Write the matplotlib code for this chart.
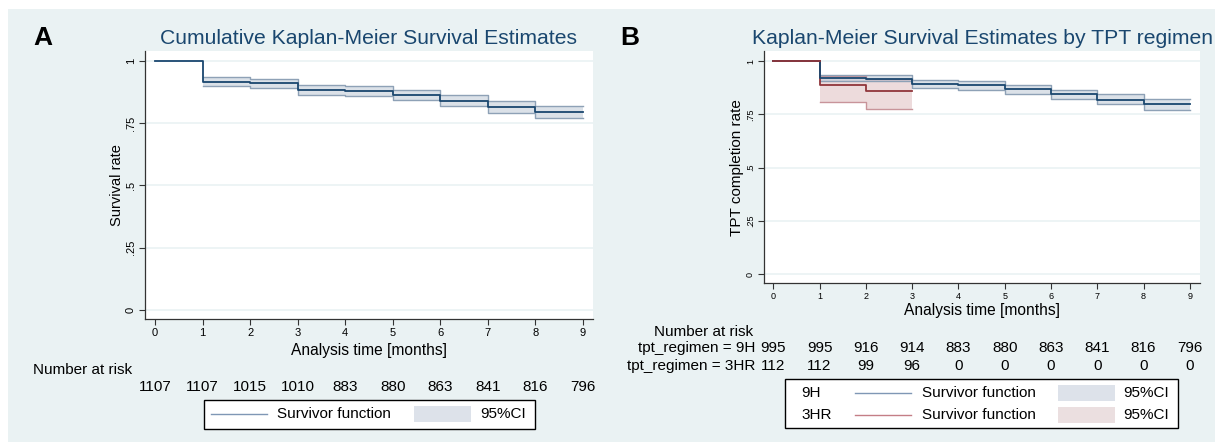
import numpy as np
import matplotlib.pyplot as plt
from matplotlib.transforms import blended_transform_factory
from matplotlib.patches import Rectangle
from matplotlib.lines import Line2D

plt.rcParams['font.family'] = ['Liberation Sans', 'DejaVu Sans']

W, H = 1215, 444

# dados
months = np.arange(10)

# painel A - coorte inteira
surv_all = [1.0, 0.916, 0.911, 0.884, 0.880, 0.865, 0.841, 0.815, 0.796]
lo_all = [0.899, 0.893, 0.862, 0.858, 0.842, 0.818, 0.791, 0.770]
hi_all = [0.934, 0.927, 0.903, 0.899, 0.885, 0.865, 0.839, 0.820]
risk_all = [1107, 1107, 1015, 1010, 883, 880, 863, 841, 816, 796]

# painel B - por regime
surv_9h = [1.0, 0.920, 0.917, 0.893, 0.888, 0.868, 0.846, 0.819, 0.800]
lo_9h = [0.907, 0.904, 0.871, 0.863, 0.844, 0.821, 0.796, 0.772]
hi_9h = [0.936, 0.932, 0.912, 0.906, 0.888, 0.866, 0.843, 0.822]
surv_3hr = [1.0, 0.887, 0.857]
lo_3hr = [0.808, 0.777]
hi_3hr = [0.931, 0.915]
risk_9h = [995, 995, 916, 914, 883, 880, 863, 841, 816, 796]
risk_3hr = [112, 112, 99, 96, 0, 0, 0, 0, 0, 0]

yticks = [0, 0.25, 0.5, 0.75, 1]
ytick_labels = ['0', '.25', '.5', '.75', '1']

bg = '#eaf2f3'
navy = '#1a476f'
maroon = '#90353b'


def fx(px):
    return px / W


def fy(py):
    return 1 - py / H


def km(ax, surv, lo, hi, color, fill, edge):
    n = len(surv)
    t = months[:n + 1]
    ax.step(t, surv + surv[-1:], where='post', color=color, lw=1.3, zorder=5)
    tc = months[1:n + 1]
    ax.fill_between(tc, lo + lo[-1:], hi + hi[-1:], step='post', color=fill,
                    alpha=0.6, lw=0, zorder=2)
    ax.step(tc, lo + lo[-1:], where='post', color=edge, lw=1.0, zorder=3)
    ax.step(tc, hi + hi[-1:], where='post', color=edge, lw=1.0, zorder=3)


def setup(ax, tick_fs, ylim, xlim):
    ax.set_facecolor('white')
    ax.set_xlim(*xlim)
    ax.set_ylim(*ylim)
    ax.set_xticks(months)
    ax.set_yticks(yticks)
    ax.set_yticklabels(ytick_labels, rotation=90, va='center')
    ax.grid(axis='y', color=bg, lw=1.2)
    ax.set_axisbelow(True)
    for s in ['top', 'right']:
        ax.spines[s].set_visible(False)
    for s in ['left', 'bottom']:
        ax.spines[s].set_color('#333333')
        ax.spines[s].set_linewidth(0.9)
    ax.tick_params(length=4.5, width=0.8, colors='#333333', labelcolor='black',
                   labelsize=tick_fs, pad=2)


def legend_row(y, x_line, x_txt, x_patch, x_ci, lcolor, pcolor):
    fig.add_artist(Line2D([fx(x_line), fx(x_line + 56)], [fy(y), fy(y)],
                          color=lcolor, lw=1.0, transform=fig.transFigure))
    fig.text(fx(x_txt), fy(y), 'Survivor function', fontsize=11, va='center')
    fig.add_artist(Rectangle((fx(x_patch), fy(y + 8)), 57 / W, 16 / H,
                             facecolor=pcolor, edgecolor='none',
                             transform=fig.transFigure))
    fig.text(fx(x_ci), fy(y), '95%CI', fontsize=11, va='center')


fig = plt.figure(figsize=(W / 100, H / 100), dpi=100)
fig.patch.set_facecolor('white')
fig.add_artist(Rectangle((fx(8), fy(442)), (W - 8) / W, (442 - 9) / H,
                         facecolor=bg, edgecolor='none',
                         transform=fig.transFigure, zorder=0))

# ---------------- painel A ----------------
axA = fig.add_axes([fx(145), fy(319), (593 - 145) / W, (319 - 51) / H])
setup(axA, 8, (-0.036, 1.040), (-0.21, 9.21))
km(axA, surv_all, lo_all, hi_all, navy, '#c3cdd9', '#8ea1b6')

fig.text(fx(33), fy(38), 'A', fontsize=19, fontweight='bold', va='center')
fig.text(fx(369), fy(38), 'Cumulative Kaplan-Meier Survival Estimates',
         fontsize=15.2, color=navy, ha='center', va='center')
fig.text(fx(117), fy(185), 'Survival rate', fontsize=10.5, rotation=90,
         ha='center', va='center')
fig.text(fx(369), fy(350), 'Analysis time [months]', fontsize=11.2,
         ha='center', va='center')

trA = blended_transform_factory(axA.transData, fig.transFigure)
fig.text(fx(33), fy(370), 'Number at risk', fontsize=11, va='center')
for t, n in zip(months, risk_all):
    axA.text(t, fy(387), str(n), transform=trA, fontsize=11,
             ha='center', va='center', clip_on=False)

fig.add_artist(Rectangle((fx(204), fy(429)), (535 - 204) / W, 29 / H,
                         facecolor='white', edgecolor='black', lw=1,
                         transform=fig.transFigure))
legend_row(414, 211, 277, 414, 480, '#7f97b5', '#dde2ea')

# ---------------- painel B ----------------
axB = fig.add_axes([fx(764), fy(283), (1200 - 764) / W, (283 - 51) / H])
setup(axB, 6.5, (-0.042, 1.047), (-0.2, 9.22))
km(axB, surv_3hr, lo_3hr, hi_3hr, maroon, '#e2c3c6', '#c8949a')
km(axB, surv_9h, lo_9h, hi_9h, navy, '#c3cdd9', '#8ea1b6')
# curva 3HR por cima no trecho inicial
axB.step(months[:2], surv_3hr[:1] * 2, where='post', color=maroon, lw=1.3, zorder=6)

fig.text(fx(620), fy(38), 'B', fontsize=19, fontweight='bold', va='center')
fig.text(fx(982), fy(38), 'Kaplan-Meier Survival Estimates by TPT regimen',
         fontsize=15.2, color=navy, ha='center', va='center')
fig.text(fx(737), fy(168), 'TPT completion rate', fontsize=11, rotation=90,
         ha='center', va='center')
fig.text(fx(982), fy(311), 'Analysis time [months]', fontsize=11.2,
         ha='center', va='center')

trB = blended_transform_factory(axB.transData, fig.transFigure)
fig.text(fx(753), fy(332), 'Number at risk', fontsize=11, ha='right', va='center')
fig.text(fx(755), fy(348), 'tpt_regimen = 9H', fontsize=11, ha='right', va='center')
fig.text(fx(755), fy(366), 'tpt_regimen = 3HR', fontsize=11, ha='right', va='center')
for t, n1, n2 in zip(months, risk_9h, risk_3hr):
    axB.text(t, fy(348), str(n1), transform=trB, fontsize=11,
             ha='center', va='center', clip_on=False)
    axB.text(t, fy(366), str(n2), transform=trB, fontsize=11,
             ha='center', va='center', clip_on=False)

fig.add_artist(Rectangle((fx(785), fy(428)), (1178 - 785) / W, 49 / H,
                         facecolor='white', edgecolor='black', lw=1,
                         transform=fig.transFigure))
fig.text(fx(801), fy(393), '9H', fontsize=11, va='center')
fig.text(fx(801), fy(415), '3HR', fontsize=11, va='center')
legend_row(393, 855, 922, 1058, 1123, '#7f97b5', '#dde2ea')
legend_row(415, 855, 922, 1058, 1123, '#c47e86', '#ebdfe0')

fig.savefig('out.png', dpi=100)
